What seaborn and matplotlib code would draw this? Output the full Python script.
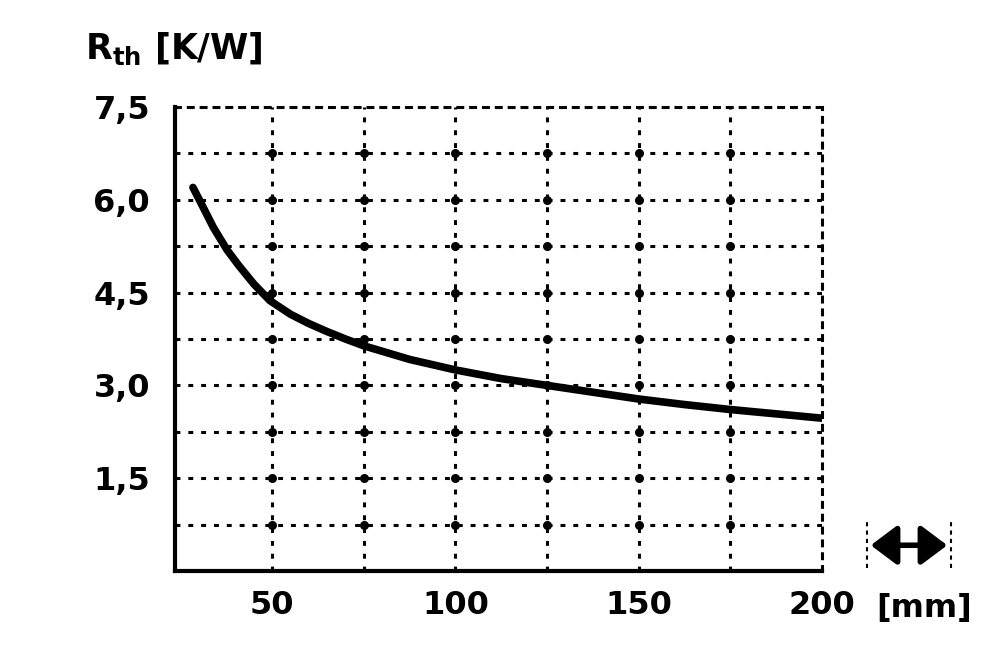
import numpy as np
import pandas as pd
import seaborn as sns
import matplotlib.pyplot as plt
from matplotlib.patches import FancyArrowPatch

# curve (length in mm vs thermal resistance in K/W)
length_mm = [28.4, 31, 34, 37.7, 41, 45, 49.4, 55, 60, 65, 70, 75, 87.5, 100, 112.5, 125, 137.5, 150, 162.5, 175, 187.5, 200]
r_th = [6.2, 5.9, 5.55, 5.19, 4.93, 4.64, 4.37, 4.15, 4.0, 3.87, 3.75, 3.64, 3.42, 3.25, 3.11, 3.0, 2.89, 2.78, 2.69, 2.61, 2.54, 2.47]

x_grid = [50, 75, 100, 125, 150, 175, 200]
x_labels = ['50', '', '100', '', '150', '', '200']
y_grid = [0.75, 1.5, 2.25, 3.0, 3.75, 4.5, 5.25, 6.0, 6.75, 7.5]
y_labels = ['', '1,5', '', '3,0', '', '4,5', '', '6,0', '', '7,5']

df = pd.DataFrame({'length': length_mm, 'rth': r_th})

sns.set_style('white')
plt.rcParams['font.family'] = ['DejaVu Sans']
plt.rcParams['text.color'] = 'black'
plt.rcParams['xtick.color'] = 'black'
plt.rcParams['ytick.color'] = 'black'

fig = plt.figure(figsize=(10, 6.53), dpi=100)
ax = fig.add_axes([0.175, 0.1256, 0.647, 0.7105])

dot = (0, (1.6, 2.6))
ax.set_xlim(23.5, 200)
ax.set_ylim(0, 7.5)
ax.set_xticks(x_grid)
ax.set_xticklabels(x_labels)
ax.set_yticks(y_grid)
ax.set_yticklabels(y_labels)
ax.grid(True, color='black', linestyle=dot, linewidth=2.2)
ax.tick_params(length=0, labelsize=23, pad=18)
ax.tick_params(axis='x', pad=14)
for lab in ax.get_xticklabels() + ax.get_yticklabels():
    lab.set_fontweight('bold')

for side in ['left', 'bottom']:
    ax.spines[side].set_linewidth(3)
    ax.spines[side].set_color('black')
for side in ['top', 'right']:
    ax.spines[side].set_linewidth(2.2)
    ax.spines[side].set_linestyle(dot)
    ax.spines[side].set_color('black')

# dots where the grid lines cross
gx, gy = np.meshgrid(x_grid[:-1], y_grid[:-1])
ax.scatter(gx.ravel(), gy.ravel(), s=30, color='black', zorder=3)

sns.lineplot(data=df, x='length', y='rth', color='black', linewidth=5.5, ax=ax, zorder=4)
ax.set_xlabel('')
ax.set_ylabel('')

fig.text(0.085, 0.925, r'$\mathregular{R_{th}}$ [K/W]', fontsize=25, fontweight='bold', va='center')
fig.text(0.876, 0.068, '[mm]', fontsize=23, fontweight='bold', va='center')

# double arrow with end bars
arr_y = 0.165
for bx in [0.867, 0.951]:
    fig.add_artist(plt.Line2D([bx, bx], [0.13, 0.2], color='black', lw=1.5, linestyle=(0, (2, 2))))
fig.patches.append(FancyArrowPatch((0.868, arr_y), (0.950, arr_y),
                   transform=fig.transFigure, arrowstyle='<|-|>,head_length=0.8,head_width=0.6',
                   mutation_scale=20, color='black', lw=4))

fig.savefig('out.png', dpi=100, facecolor='white')
